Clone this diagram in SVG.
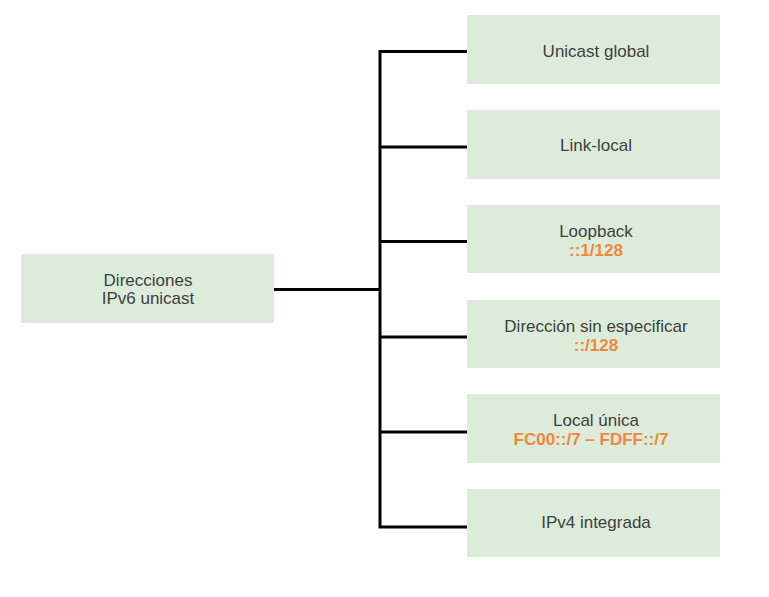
<svg xmlns="http://www.w3.org/2000/svg" width="769" height="597" viewBox="0 0 769 597">
<style>
.box{fill:#dcebda}
.t{font-family:"Liberation Sans",Arial,sans-serif;font-size:17px;fill:#3f3f3f;text-anchor:middle}
.o{font-family:"Liberation Sans",Arial,sans-serif;font-size:17px;font-weight:bold;fill:#f0883e;text-anchor:middle}
.c{stroke:#000;stroke-width:3;fill:none}
</style>
<rect width="769" height="597" fill="#fff"/>
<g id="connectors">
<path class="c" d="M274 289.5H380M380 50V528.5M379 51.5H467M379 147H467M379 241.5H467M379 337H467M379 432H467M379 527H467"/>
</g>
<g id="root"><rect class="box" x="21" y="254" width="253" height="69"/><text class="t" x="148" y="286">Direcciones</text><text class="t" x="148" y="304">IPv6 unicast</text></g>
<g id="n1"><rect class="box" x="467" y="15" width="253" height="69"/><text class="t" x="596" y="57">Unicast global</text></g>
<g id="n2"><rect class="box" x="467" y="110" width="253" height="69"/><text class="t" x="596" y="151">Link-local</text></g>
<g id="n3"><rect class="box" x="467" y="205" width="253" height="68"/><text class="t" x="596" y="237">Loopback</text><text class="o" x="596" y="256">::1/128</text></g>
<g id="n4"><rect class="box" x="467" y="300" width="253" height="68"/><text class="t" x="596" y="332">Dirección sin especificar</text><text class="o" x="596" y="351">::/128</text></g>
<g id="n5"><rect class="box" x="467" y="394" width="253" height="69"/><text class="t" x="596" y="426">Local única</text><text class="o" x="591" y="445">FC00::/7 – FDFF::/7</text></g>
<g id="n6"><rect class="box" x="467" y="489" width="253" height="68"/><text class="t" x="596" y="528">IPv4 integrada</text></g>
</svg>
